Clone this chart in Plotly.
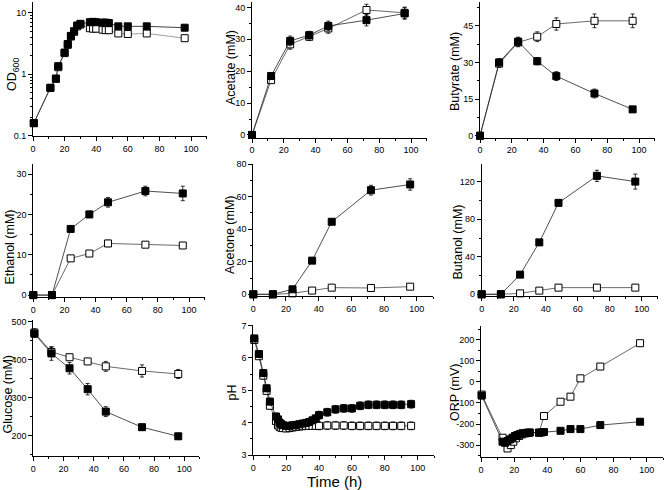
import plotly.graph_objects as go

W, H = 664, 490

# ---------------- data ----------------
t_od = [0.5, 11, 14.5, 16, 20, 22, 24, 26, 28, 30, 36, 38, 40, 44, 46, 48, 54, 60, 72, 96]
od_filled = [0.16, 0.6, 0.85, 1.35, 2.25, 3.1, 4.2, 5.0, 6.2, 6.6, 7.0, 7.1, 7.0, 6.9, 6.9, 6.8, 6.0, 6.0, 6.0, 5.7]
od_open = [0.16, 0.6, 0.84, 1.3, 2.2, 3.0, 4.1, 4.9, 6.0, 6.4, 5.6, 5.5, 5.5, 5.3, 5.2, 5.2, 4.6, 4.5, 4.6, 3.85]
od_err_open = [0, 0, 0, 0, 0, 0, 0, 0, 0, 0, 0.4, 0.4, 0.4, 0.4, 0.4, 0.4, 0.3, 0.3, 0.3, 0.3]

t_prod = [0, 12, 24, 36, 48, 72, 96]
acetate_f = [0, 18.5, 29.5, 31.3, 34.2, 36.0, 38.1]
acetate_f_err = [0, 1.0, 1.5, 1.2, 1.5, 1.8, 1.8]
acetate_o = [0, 17.2, 28.4, 30.8, 33.4, 39.2, 38.3]
acetate_o_err = [0, 1.0, 1.5, 1.2, 1.5, 1.8, 1.8]

butyrate_f = [0, 30, 38.5, 30.5, 24.4, 17.3, 10.8]
butyrate_f_err = [0, 1.5, 1.8, 1.5, 1.8, 1.8, 1.0]
butyrate_o = [0, 29.5, 38.2, 40.5, 45.7, 47.0, 47.0]
butyrate_o_err = [0, 1.5, 1.8, 2.0, 2.5, 2.8, 2.8]

ethanol_f = [0, 0, 16.4, 20, 23, 25.8, 25.2]
ethanol_f_err = [0, 0, 0.5, 0.8, 1.2, 1.2, 1.8]
ethanol_o = [0, 0, 9.1, 10.3, 12.8, 12.5, 12.3]
ethanol_o_err = [0, 0, 0.6, 0.6, 0.8, 0.6, 0.6]

acetone_f = [0, 0, 3.1, 20.7, 44.6, 64, 67.5]
acetone_f_err = [0, 0, 0.5, 1.0, 1.5, 3.0, 3.5]
acetone_o = [0, 0, 0.6, 2.3, 4.1, 3.9, 4.7]
acetone_o_err = [0, 0, 0.5, 1.0, 1.5, 1.5, 1.5]

butanol_f = [0, 0, 21, 55.4, 97.6, 126.4, 120.3]
butanol_f_err = [0, 0, 1.5, 2, 3, 6, 8]
butanol_o = [0, 0, 1, 3.9, 7.1, 7.1, 7.1]
butanol_o_err = [0, 0, 1, 2, 3, 3, 3]

t_glc = [0.7, 12, 24, 36, 48, 72, 96]
glucose_f = [469, 417, 378, 323, 264, 223, 199]
glucose_f_err = [10, 18, 15, 15, 13, 8, 8]
glucose_o = [472, 421, 407, 396, 383, 371, 363]
glucose_o_err = [10, 12, 8, 8, 13, 16, 12]

t_ph = [0.6, 3.4, 6.1, 8.1, 10.1, 13.8, 15, 16, 17, 18, 20, 22, 24, 26, 28, 30, 32, 34, 36, 38, 40,
        45, 50, 55, 60, 65, 70, 75, 80, 85, 90, 96]
ph_f = [6.6, 6.12, 5.53, 5.06, 4.65, 4.19, 4.1, 4.0, 3.95, 3.92, 3.9, 3.9, 3.92, 3.93, 3.95, 3.97, 3.99,
        4.02, 4.07, 4.13, 4.23, 4.32, 4.41, 4.44, 4.44, 4.52, 4.55, 4.55, 4.55, 4.55, 4.55, 4.57]
ph_o = [6.55, 6.05, 5.45, 4.98, 4.52, 4.05, 3.92, 3.87, 3.84, 3.83, 3.82, 3.83, 3.85, 3.87, 3.88, 3.89, 3.9,
        3.9, 3.9, 3.9, 3.9, 3.91, 3.91, 3.91, 3.9, 3.9, 3.9, 3.9, 3.9, 3.9, 3.9, 3.9]
ph_err = [0.08, 0.1, 0.1, 0.1, 0.1, 0.1, 0.08, 0.08, 0.08, 0.08, 0.08, 0.08, 0.08, 0.08, 0.08, 0.08, 0.08,
          0.08, 0.1, 0.1, 0.12, 0.12, 0.12, 0.12, 0.12, 0.12, 0.12, 0.12, 0.12, 0.12, 0.12, 0.12]

t_orp_f = [0.4, 13, 14.5, 16, 17.5, 19, 20.5, 22, 23.5, 25, 26.5, 28, 29.5, 35, 36.5, 38, 48, 54, 60, 72, 96]
orp_f = [-65, -284, -289, -281, -273, -265, -257, -252, -248, -244, -243, -241, -240, -241, -240, -238,
         -232, -224, -224, -205, -189]
t_orp_o = [0.4, 13, 16, 18, 19.5, 21, 23, 25, 27, 29, 35, 38, 48, 54, 60, 72, 96]
orp_o = [-60, -265, -316, -300, -284, -268, -257, -249, -244, -242, -241, -162, -94, -70, 17, 73, 184]
orp_o_err = [0, 0, 5, 5, 5, 5, 5, 5, 5, 5, 5, 8, 10, 12, 10, 10, 10]

# ---------------- layout helpers ----------------
# (x0 px, x100 px, top px, bottom px, yrange, yticks)
panels = [
    (33, 191, 2, 135.7, None, None),
    (252, 411, 2, 137.5, [-0.8, 41.7], [0, 10, 20, 30, 40]),
    (480, 639, 2, 137.5, [-0.7, 54.7], [0, 15, 30, 45]),
    (33.3, 189, 164, 296.7, [-0.4, 32.5], [0, 10, 20, 30]),
    (253.3, 416.7, 163.5, 295.7, [-0.85, 80.4], [0, 20, 40, 60, 80]),
    (481.7, 641.7, 163.5, 295.7, [-1.5, 139.6], [0, 40, 80, 120]),
    (33.3, 184.3, 320, 455.7, [148, 505], [200, 300, 400, 500]),
    (253.3, 417.7, 324.5, 455, [3, 7.03], [3, 4, 5, 6, 7]),
    (481, 646.7, 325.5, 457.3, [-358, 268], [-300, -200, -100, 0, 100, 200]),
]
minor_dy = [None, 5, 7.5, 5, 10, 20, 50, 0.5, 50]

fig = go.Figure()

TICKFONT = dict(family="Liberation Sans, Arial, sans-serif", size=9, color="black")

for i, (x0, x100, top, bot, yr, yt) in enumerate(panels):
    n = "" if i == 0 else str(i + 1)
    scale = (x100 - x0) / 100.0
    xend = x0 + 110 * scale
    xa = dict(domain=[x0 / W, xend / W], range=[0, 110], showline=True, linecolor="black", linewidth=1,
              ticks="outside", ticklen=4, tickwidth=1, tickcolor="black", automargin=False,
              tickvals=[0, 20, 40, 60, 80, 100], showgrid=False, zeroline=False,
              tickfont=TICKFONT, anchor="y" + n, fixedrange=True,
              minor=dict(ticks="outside", ticklen=2, tickcolor="black", tickvals=[10, 30, 50, 70, 90, 110]))
    ya = dict(domain=[1 - bot / H, 1 - top / H], showline=True, linecolor="black", linewidth=1,
              ticks="outside", ticklen=4, tickwidth=1, tickcolor="black", showgrid=False, zeroline=False,
              tickfont=TICKFONT, anchor="x" + n, fixedrange=True, automargin=False)
    if i == 0:
        ya.update(type="log", range=[-1, 1.174], tickvals=[0.1, 1, 10], ticktext=["0.1", "1", "10"],
                  minor=dict(ticks="outside", ticklen=2, tickcolor="black",
                             tickvals=[0.2, 0.3, 0.4, 0.5, 0.6, 0.7, 0.8, 0.9,
                                       2, 3, 4, 5, 6, 7, 8, 9]))
    else:
        md = minor_dy[i]
        mv = []
        v = yt[0] - md
        while v <= yr[1]:
            if v >= yr[0] and all(abs(v - t) > 1e-9 for t in yt):
                mv.append(round(v, 4))
            v += md
        ya.update(range=yr, tickvals=yt, ticktext=[str(t) for t in yt],
                  minor=dict(ticks="outside", ticklen=2, tickcolor="black", tickvals=mv))
    fig.layout["xaxis" + n] = xa
    fig.layout["yaxis" + n] = ya


def add(idx, x, y, err, filled, linecolor):
    n = "" if idx == 0 else str(idx + 1)
    eb = None
    if err is not None:
        eb = dict(type="data", array=err, visible=True, color="black", thickness=0.8, width=2)
    fig.add_trace(go.Scatter(
        x=x, y=y, mode="lines+markers", xaxis="x" + n, yaxis="y" + n,
        line=dict(color=linecolor, width=0.8),
        marker=dict(symbol="square", size=7,
                    color="black" if filled else "white",
                    line=dict(color="black", width=1)),
        error_y=eb, showlegend=False, hoverinfo="skip", cliponaxis=False))


add(0, t_od, od_open, od_err_open, False, "#888888")
add(0, t_od, od_filled, None, True, "#111111")
add(1, t_prod, acetate_o, acetate_o_err, False, "#444444")
add(1, t_prod, acetate_f, acetate_f_err, True, "#222222")
add(2, t_prod, butyrate_o, butyrate_o_err, False, "#444444")
add(2, t_prod, butyrate_f, butyrate_f_err, True, "#222222")
add(3, t_prod, ethanol_o, ethanol_o_err, False, "#444444")
add(3, t_prod, ethanol_f, ethanol_f_err, True, "#222222")
add(4, t_prod, acetone_o, acetone_o_err, False, "#444444")
add(4, t_prod, acetone_f, acetone_f_err, True, "#222222")
add(5, t_prod, butanol_o, butanol_o_err, False, "#444444")
add(5, t_prod, butanol_f, butanol_f_err, True, "#222222")
add(6, t_glc, glucose_o, glucose_o_err, False, "#444444")
add(6, t_glc, glucose_f, glucose_f_err, True, "#222222")
add(7, t_ph, ph_o, ph_err, False, "#444444")
add(7, t_ph, ph_f, ph_err, True, "#222222")
add(8, t_orp_o, orp_o, orp_o_err, False, "#444444")
add(8, t_orp_f, orp_f, None, True, "#222222")

TITLEFONT = dict(family="Liberation Sans, Arial, sans-serif", size=12.5, color="black")
ytitles = [
    ("OD<sub>600</sub>", 13, 75),
    ("Acetate (mM)", 231, 68),
    ("Butyrate (mM)", 455, 72),
    ("Ethanol (mM)", 9.5, 247),
    ("Acetone (mM)", 230, 234),
    ("Butanol (mM)", 457.5, 242),
    ("Glucose (mM)", 7.5, 395),
    ("pH", 231.5, 393),
    ("ORP (mV)", 455, 393),
]
ann = []
for txt, xp, yp in ytitles:
    ann.append(dict(text=txt, x=xp / W, y=1 - yp / H, xref="paper", yref="paper",
                    xanchor="center", yanchor="middle", textangle=-90, showarrow=False,
                    font=TITLEFONT))
ann.append(dict(text="Time (h)", x=335 / W, y=1 - 481 / H, xref="paper", yref="paper",
                xanchor="center", yanchor="middle", showarrow=False,
                font=dict(family="Liberation Sans, Arial, sans-serif", size=15, color="black")))

fig.update_layout(width=W, height=H, margin=dict(l=0, r=0, t=0, b=0),
                  paper_bgcolor="white", plot_bgcolor="white", annotations=ann)

fig.write_html("out.html", config={"displayModeBar": False},
               post_script="document.body.style.margin='0px';document.body.style.overflow='hidden';")
